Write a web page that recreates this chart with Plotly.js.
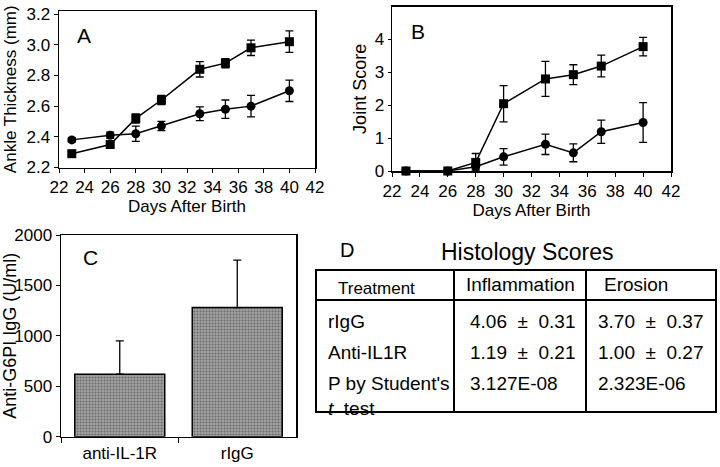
<!DOCTYPE html>
<html>
<head>
<meta charset="utf-8">
<script src="https://cdn.plot.ly/plotly-3.0.1.min.js"></script>
<style>
  body { margin: 0; background: #fff; }
  #chart { width: 720px; height: 467px; }
</style>
</head>
<body>
<div id="chart"></div>
<script>
// panel A: ankle thickness
let daysA = [23, 26, 28, 30, 33, 35, 37, 40]
let ankleRigg = [2.29, 2.35, 2.52, 2.64, 2.84, 2.88, 2.98, 3.02]
let ankleRiggErr = [0.015, 0.02, 0.03, 0.03, 0.05, 0.03, 0.05, 0.07]
let ankleAnti = [2.38, 2.41, 2.42, 2.47, 2.55, 2.58, 2.60, 2.70]
let ankleAntiErr = [0.015, 0.02, 0.05, 0.03, 0.045, 0.06, 0.07, 0.07]

// panel B: joint score
let daysB = [23, 26, 28, 30, 33, 35, 37, 40]
let scoreRigg = [0, 0, 0.26, 2.04, 2.79, 2.92, 3.18, 3.77]
let scoreRiggErr = [0, 0, 0.27, 0.55, 0.53, 0.3, 0.33, 0.28]
let scoreAnti = [0, 0, 0.13, 0.43, 0.81, 0.55, 1.19, 1.47]
let scoreAntiErr = [0, 0, 0.1, 0.25, 0.31, 0.27, 0.35, 0.6]

// panel C: anti-G6PI IgG
let groupsC = ['anti-IL-1R', 'rIgG']
let iggValues = [620, 1280]
let iggErr = [330, 470]

// panel D: histology table
let tableHeader = ['Treatment', 'Inflammation', 'Erosion']
let treatments = ['rIgG', 'Anti-IL1R', "P by Student's<br><i>t</i>\u00a0 test"]
let inflammation = ['4.06\u00a0 ±\u00a0 0.31', '1.19\u00a0 ±\u00a0 0.21', '3.127E-08']
let erosion = ['3.70\u00a0 ±\u00a0 0.37', '1.00\u00a0 ±\u00a0 0.27', '2.323E-06']

let W = 720, H = 467
function fx (x) { return x / W }
function fy (y) { return 1 - y / H }

let font = 'Liberation Sans, Arial, sans-serif'

function lineTrace (x, y, err, sym, xa, ya) {
  return {
    type: 'scatter',
    mode: 'lines+markers',
    x: x,
    y: y,
    xaxis: xa,
    yaxis: ya,
    cliponaxis: false,
    line: {color: 'black', width: 1.5},
    marker: {symbol: sym, size: 9, color: 'black'},
    error_y: {type: 'data', array: err, color: 'black', thickness: 1.3, width: 4},
    showlegend: false
  }
}

let traces = [
  lineTrace(daysA, ankleRigg, ankleRiggErr, 'square', 'x', 'y'),
  lineTrace(daysA, ankleAnti, ankleAntiErr, 'circle', 'x', 'y'),
  lineTrace(daysB, scoreRigg, scoreRiggErr, 'square', 'x2', 'y2'),
  lineTrace(daysB, scoreAnti, scoreAntiErr, 'circle', 'x2', 'y2'),
  {
    type: 'bar',
    x: groupsC,
    y: iggValues,
    xaxis: 'x3',
    yaxis: 'y3',
    marker: {
      color: '#909090',
      line: {color: 'black', width: 1.5},
      pattern: {shape: '.', fgcolor: '#6a6a6a', bgcolor: '#a2a2a2', size: 3, solidity: 0.35}
    },
    error_y: {type: 'data', symmetric: false, array: iggErr, arrayminus: [0, 0], color: 'black', thickness: 1.3, width: 4},
    showlegend: false
  }
]

let axisBase = {
  showline: true,
  mirror: true,
  linecolor: 'black',
  linewidth: 1.5,
  showgrid: false,
  zeroline: false,
  ticks: 'outside',
  ticklen: 4,
  tickcolor: 'black',
  tickfont: {size: 17, color: 'black'}
}

function note (text, x, y, size, xanchor, extra) {
  return Object.assign({
    text: text, x: fx(x), y: fy(y), xref: 'paper', yref: 'paper',
    xanchor: xanchor, yanchor: 'middle', showarrow: false, font: {size: size}
  }, extra || {})
}

let annotations = [
  note('A', 84, 35, 21, 'center'),
  note('B', 418, 32, 21, 'center'),
  note('C', 90, 257, 21, 'center'),
  note('D', 338, 250, 20, 'left'),
  note('Histology Scores', 527, 252, 23, 'center')
]

// table text
annotations.push(note(tableHeader[0], 336, 288, 17, 'left'))
annotations.push(note(tableHeader[1], 464, 284, 19, 'left'))
annotations.push(note(tableHeader[2], 602, 284, 19, 'left'))
let rowY = [321, 352, 383]
for (let i = 0; i < treatments.length; i++) {
  let extra = i === 2 ? {yanchor: 'top', yshift: 12, align: 'left'} : {}
  annotations.push(note(treatments[i], 326, rowY[i], 19, 'left', extra))
  annotations.push(note(inflammation[i], 468, rowY[i], 19, 'left'))
  annotations.push(note(erosion[i], 596, rowY[i], 19, 'left'))
}

let tableLine = {color: 'black', width: 2}
let shapes = [
  {type: 'rect', xref: 'paper', yref: 'paper', x0: fx(316), x1: fx(716), y0: fy(412), y1: fy(270), line: tableLine},
  {type: 'line', xref: 'paper', yref: 'paper', x0: fx(316), x1: fx(716), y0: fy(300), y1: fy(300), line: tableLine},
  {type: 'line', xref: 'paper', yref: 'paper', x0: fx(454), x1: fx(454), y0: fy(412), y1: fy(270), line: tableLine},
  {type: 'line', xref: 'paper', yref: 'paper', x0: fx(586), x1: fx(586), y0: fy(412), y1: fy(270), line: tableLine}
]

let layout = {
  width: W,
  height: H,
  autosize: false,
  margin: {l: 0, r: 0, t: 0, b: 0, pad: 0},
  paper_bgcolor: 'white',
  plot_bgcolor: 'white',
  font: {family: font, color: 'black'},
  bargap: 0.234,
  xaxis: Object.assign({}, axisBase, {
    domain: [fx(59), fx(315)], anchor: 'y', range: [22, 42], dtick: 2,
    title: {text: 'Days After Birth', font: {size: 17}, standoff: 2}
  }),
  yaxis: Object.assign({}, axisBase, {
    domain: [fy(167.5), fy(11)], anchor: 'x', range: [2.2, 3.22],
    tickvals: [2.2, 2.4, 2.6, 2.8, 3.0, 3.2], tickformat: '.1f',
    title: {text: 'Ankle Thickness (mm)', font: {size: 17}, standoff: 5}
  }),
  xaxis2: Object.assign({}, axisBase, {
    domain: [fx(392), fx(671)], anchor: 'y2', range: [22, 42], dtick: 2,
    title: {text: 'Days After Birth', font: {size: 17}, standoff: 2}
  }),
  yaxis2: Object.assign({}, axisBase, {
    domain: [fy(171), fy(6.7)], anchor: 'x2', range: [0, 4.98],
    tickvals: [0, 1, 2, 3, 4], ticklen: 3,
    title: {text: 'Joint Score', font: {size: 18}, standoff: 3}
  }),
  xaxis3: Object.assign({}, axisBase, {
    domain: [fx(61), fx(296)], anchor: 'y3', type: 'category', tickson: 'boundaries', ticklen: 5
  }),
  yaxis3: Object.assign({}, axisBase, {
    domain: [fy(436.7), fy(235)], anchor: 'x3', range: [0, 2000], dtick: 500,
    title: {text: 'Anti-G6PI IgG (U/ml)', font: {size: 18}, standoff: 1}
  }),
  annotations: annotations,
  shapes: shapes
}

Plotly.newPlot('chart', traces, layout, {displayModeBar: false, staticPlot: true})
</script>
</body>
</html>
